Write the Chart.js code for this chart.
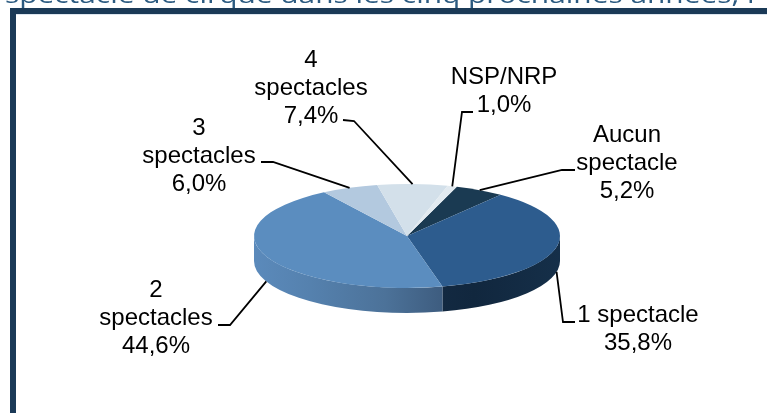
<!DOCTYPE html>
<html lang="fr">
<head>
<meta charset="utf-8">
<style>html,body{margin:0;padding:0;background:#fff;overflow:hidden}canvas{display:block}</style>
<script src="https://cdn.jsdelivr.net/npm/chart.js@4"></script>
</head>
<body>
<canvas id="c" width="767" height="413"></canvas>
<script>
const categories = ["Aucun spectacle", "1 spectacle", "2 spectacles", "3 spectacles", "4 spectacles", "NSP/NRP"];
const values = [5.2, 35.8, 44.6, 6.0, 7.4, 1.0];
const valueLabels = ["5,2%", "35,8%", "44,6%", "6,0%", "7,4%", "1,0%"];
const labelLines = [["Aucun", "spectacle"], ["1 spectacle"], ["2", "spectacles"], ["3", "spectacles"], ["4", "spectacles"], ["NSP/NRP"]];
const sliceColours = ["#1a3a52", "#2d5c8e", "#5b8dbf", "#b3c9df", "#d3e0ea", "#e2eaf0"];
const titleText = "spectacle de cirque dans les cinq prochaines années, r";

// label block layout: centre x, first baseline
const labelPos = [[627, 142], [638, 322], [156, 297], [199, 135], [311, 67], [504, 84]];
// leader elbow points, from label to slice
const leaderElbows = [
  [[575, 170], [562, 170]],
  [[575, 322], [563, 322]],
  [[218, 325], [230, 325]],
  [[261, 162], [273, 162]],
  [[343, 120], [354, 121]],
  [[473, 112], [462, 112]]
];

const CY = 236, RY = 52, DEPTH = 25, LINE = 27.8;

function squash(ctx, cy) {
  ctx.translate(0, CY);
  ctx.scale(1, RY / 153);
  ctx.translate(0, -cy);
}

const pie3d = {
  id: "pie3d",
  beforeDraw(chart) {
    const ctx = chart.ctx;
    ctx.save();
    ctx.fillStyle = "#fff";
    ctx.fillRect(0, 0, 767, 413);
    ctx.save();
    ctx.translate(5, 3);
    ctx.scale(1.245, 1);
    ctx.font = "24px 'Open Sans'";
    ctx.fillStyle = "#2b5a80";
    ctx.fillText(titleText, 0, 0);
    ctx.restore();
    ctx.fillStyle = "#dde6ef";
    ctx.fillRect(16, 14, 751, 1);
    ctx.fillStyle = "#1b3a57";
    ctx.fillRect(10, 8, 757, 6);
    ctx.fillRect(10, 8, 6, 405);
    ctx.restore();
  },
  beforeDatasetsDraw(chart) {
    const ctx = chart.ctx;
    const arcs = chart.getDatasetMeta(0).data;
    const a0 = arcs[0];
    const cx = a0.x, r = a0.outerRadius;
    const rimPath = (s, e) => {
      ctx.beginPath();
      ctx.ellipse(cx, CY, r, RY, 0, s, e, false);
      ctx.lineTo(cx + r * Math.cos(e), CY + RY * Math.sin(e) + DEPTH);
      ctx.ellipse(cx, CY + DEPTH, r, RY, 0, e, s, true);
      ctx.closePath();
    };
    // front wall of slice 2 (1 spectacle)
    const g1 = ctx.createLinearGradient(cx - r, 0, cx + r, 0);
    g1.addColorStop(0.0, "#1a3350");
    g1.addColorStop(0.11, "#1a3350");
    g1.addColorStop(0.72, "#11273e");
    g1.addColorStop(1, "#152f49");
    ctx.fillStyle = g1;
    rimPath(0, arcs[1].endAngle);
    ctx.fill();
    // front wall of slice 3 (2 spectacles)
    const g2 = ctx.createLinearGradient(cx - r, 0, cx + 34, 0);
    g2.addColorStop(0, "#5b8abb");
    g2.addColorStop(0.3, "#5581ae");
    g2.addColorStop(0.7, "#4c7299");
    g2.addColorStop(1, "#3e5d80");
    ctx.fillStyle = g2;
    rimPath(arcs[2].startAngle, Math.PI);
    ctx.fill();

    ctx.save();
    squash(ctx, a0.y);
  },
  afterDatasetsDraw(chart) {
    const ctx = chart.ctx;
    ctx.restore();
    const arcs = chart.getDatasetMeta(0).data;
    ctx.save();
    ctx.textAlign = "center";
    ctx.textBaseline = "alphabetic";
    arcs.forEach((a, i) => {
      // leader from label to the middle of the slice's edge
      const mid = (a.startAngle + a.endAngle) / 2;
      const ax = a.x + a.outerRadius * Math.cos(mid);
      let ay = CY + RY * Math.sin(mid);
      if (Math.sin(mid) > 0.2) ay += DEPTH;
      ctx.beginPath();
      ctx.moveTo(leaderElbows[i][0][0], leaderElbows[i][0][1]);
      ctx.lineTo(leaderElbows[i][1][0], leaderElbows[i][1][1]);
      ctx.lineTo(ax, ay);
      ctx.strokeStyle = "#000";
      ctx.lineWidth = 1.8;
      ctx.stroke();
      // label text
      const lines = labelLines[i].concat(valueLabels[i]);
      lines.forEach((t, k) => {
        ctx.font = "24px 'Liberation Sans'";
        ctx.fillStyle = "#000";
        ctx.fillText(t, labelPos[i][0], labelPos[i][1] + k * LINE);
      });
    });
    ctx.restore();
  }
};

new Chart(document.getElementById("c"), {
  type: "pie",
  data: {
    labels: categories,
    datasets: [{
      data: values,
      backgroundColor: sliceColours,
      borderWidth: 0
    }]
  },
  options: {
    responsive: false,
    animation: false,
    rotation: 19,
    layout: { padding: { left: 254, right: 207, top: 30, bottom: 77 } },
    plugins: { legend: { display: false }, tooltip: { enabled: false } }
  },
  plugins: [pie3d]
});
</script>
</body>
</html>
